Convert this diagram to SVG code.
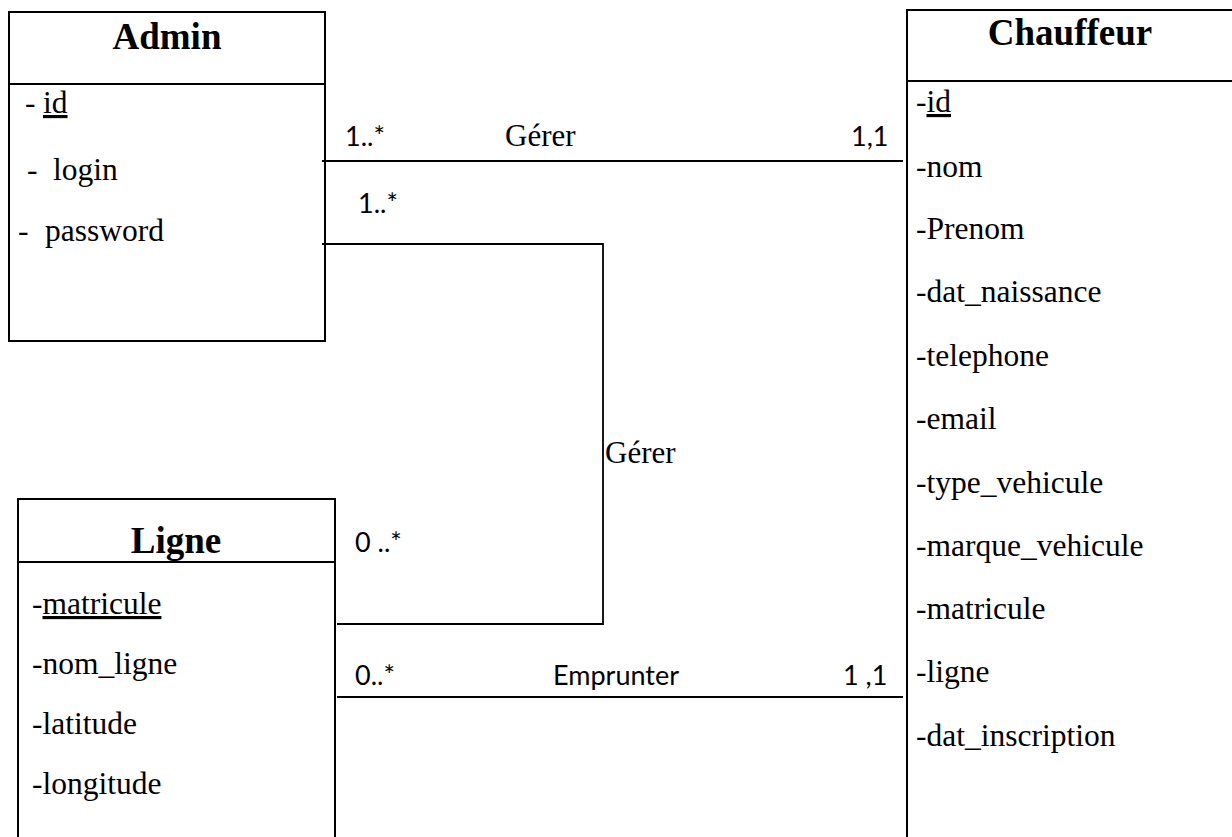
<svg xmlns="http://www.w3.org/2000/svg" width="1232" height="837" viewBox="0 0 1232 837">
  <style>
    .box { fill: none; stroke: #000; stroke-width: 2; }
    .link { fill: none; stroke: #000; stroke-width: 1.8; }
    .title { font-family: "Liberation Serif", "Times New Roman", serif; font-weight: bold; font-size: 37px; text-anchor: middle; fill: #000; }
    .attr { font-family: "Liberation Serif", "Times New Roman", serif; font-size: 31.5px; fill: #000; }
    .role { font-family: "Liberation Serif", "Times New Roman", serif; font-size: 31px; fill: #000; }
    .mult { font-family: "Lato", "Open Sans", sans-serif; font-size: 27px; fill: #000; }
    .key { text-decoration: underline; }
  </style>
  <rect width="1232" height="837" fill="#fff"/>

  <!-- Admin class -->
  <g id="admin">
    <rect class="box" x="9" y="12" width="316" height="329"/>
    <line class="box" x1="9" y1="84" x2="325" y2="84"/>
    <text class="title" x="167" y="49">Admin</text>
    <text class="attr" x="25" y="113">-</text>
    <text class="attr key" x="43" y="113">id</text>
    <text class="attr" x="27" y="180">-</text>
    <text class="attr" x="53" y="180">login</text>
    <text class="attr" x="18" y="241">-</text>
    <text class="attr" x="45" y="241">password</text>
  </g>

  <!-- Chauffeur class (extends past the right and bottom edges) -->
  <g id="chauffeur">
    <path class="box" d="M1240 10 H907 V850"/>
    <line class="box" x1="907" y1="81" x2="1240" y2="81"/>
    <text class="title" x="1070" y="45">Chauffeur</text>
    <text class="attr" x="916" y="112">-<tspan class="key">id</tspan></text>
    <text class="attr" x="916" y="177">-nom</text>
    <text class="attr" x="916" y="239">-Prenom</text>
    <text class="attr" x="916" y="302">-dat_naissance</text>
    <text class="attr" x="916" y="366">-telephone</text>
    <text class="attr" x="916" y="429">-email</text>
    <text class="attr" x="916" y="493">-type_vehicule</text>
    <text class="attr" x="916" y="556">-marque_vehicule</text>
    <text class="attr" x="916" y="619">-matricule</text>
    <text class="attr" x="916" y="682">-ligne</text>
    <text class="attr" x="916" y="746">-dat_inscription</text>
  </g>

  <!-- Ligne class (extends past the bottom edge) -->
  <g id="ligne">
    <path class="box" d="M18 850 V499 H335 V850"/>
    <line class="box" x1="18" y1="562" x2="335" y2="562"/>
    <text class="title" x="176" y="553">Ligne</text>
    <text class="attr" x="32" y="614">-<tspan class="key">matricule</tspan></text>
    <text class="attr" x="32" y="674">-nom_ligne</text>
    <text class="attr" x="32" y="734">-latitude</text>
    <text class="attr" x="32" y="794">-longitude</text>
  </g>

  <!-- Associations -->
  <g id="connectors">
    <line class="link" x1="322" y1="161" x2="903" y2="161"/>
    <path class="link" d="M322 244 H603 V624 H337"/>
    <line class="link" x1="337" y1="697" x2="903" y2="697"/>

    <text class="mult" x="345" y="146">1..*</text>
    <text class="role" x="505" y="146">Gérer</text>
    <text class="mult" x="851" y="146">1,1</text>

    <text class="mult" x="358" y="213">1..*</text>
    <text class="role" x="605" y="463">Gérer</text>
    <text class="mult" x="355" y="552">0 ..*</text>

    <text class="mult" x="355" y="685">0..*</text>
    <text class="mult" x="553" y="685">Emprunter</text>
    <text class="mult" x="843" y="685">1 ,1</text>
  </g>
</svg>
